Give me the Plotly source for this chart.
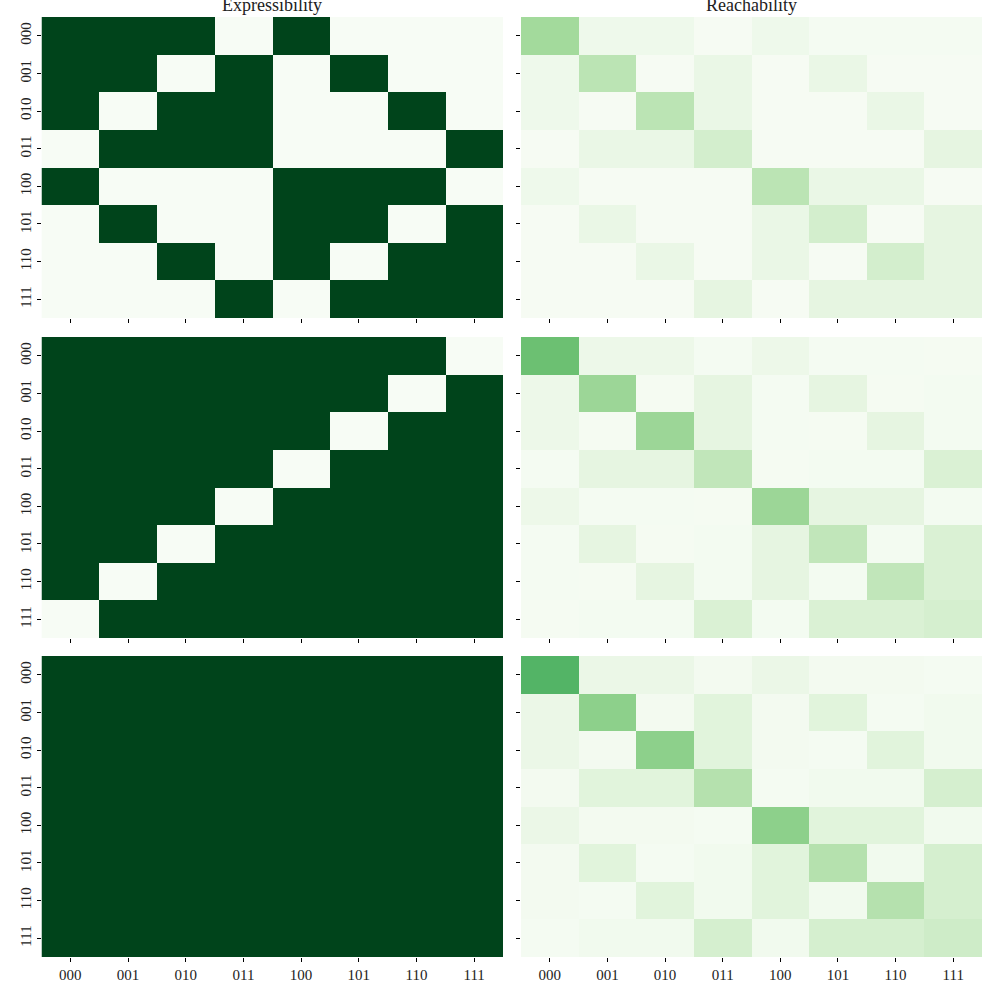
import plotly.graph_objects as go
from plotly.subplots import make_subplots

states = ["000", "001", "010", "011", "100", "101", "110", "111"]
col_titles = ["Expressibility", "Reachability"]

# Expressibility matrices (1 = expressible)
expr_1 = [
    [1, 1, 1, 0, 1, 0, 0, 0],
    [1, 1, 0, 1, 0, 1, 0, 0],
    [1, 0, 1, 1, 0, 0, 1, 0],
    [0, 1, 1, 1, 0, 0, 0, 1],
    [1, 0, 0, 0, 1, 1, 1, 0],
    [0, 1, 0, 0, 1, 1, 0, 1],
    [0, 0, 1, 0, 1, 0, 1, 1],
    [0, 0, 0, 1, 0, 1, 1, 1],
]
expr_2 = [
    [1, 1, 1, 1, 1, 1, 1, 0],
    [1, 1, 1, 1, 1, 1, 0, 1],
    [1, 1, 1, 1, 1, 0, 1, 1],
    [1, 1, 1, 1, 0, 1, 1, 1],
    [1, 1, 1, 0, 1, 1, 1, 1],
    [1, 1, 0, 1, 1, 1, 1, 1],
    [1, 0, 1, 1, 1, 1, 1, 1],
    [0, 1, 1, 1, 1, 1, 1, 1],
]
expr_3 = [
    [1, 1, 1, 1, 1, 1, 1, 1],
    [1, 1, 1, 1, 1, 1, 1, 1],
    [1, 1, 1, 1, 1, 1, 1, 1],
    [1, 1, 1, 1, 1, 1, 1, 1],
    [1, 1, 1, 1, 1, 1, 1, 1],
    [1, 1, 1, 1, 1, 1, 1, 1],
    [1, 1, 1, 1, 1, 1, 1, 1],
    [1, 1, 1, 1, 1, 1, 1, 1],
]

# Reachability matrices (estimated)
reach_1 = [
    [0.37, 0.06, 0.06, 0.01, 0.06, 0.02, 0.02, 0.02],
    [0.06, 0.29, 0.01, 0.09, 0.01, 0.09, 0.01, 0.01],
    [0.06, 0.01, 0.29, 0.09, 0.01, 0.01, 0.09, 0.01],
    [0.01, 0.09, 0.09, 0.20, 0.01, 0.01, 0.01, 0.12],
    [0.06, 0.01, 0.01, 0.01, 0.29, 0.09, 0.09, 0.01],
    [0.01, 0.09, 0.01, 0.01, 0.09, 0.20, 0.01, 0.12],
    [0.01, 0.01, 0.09, 0.01, 0.09, 0.01, 0.20, 0.12],
    [0.01, 0.01, 0.01, 0.12, 0.01, 0.12, 0.12, 0.12],
]
reach_2 = [
    [0.52, 0.07, 0.07, 0.02, 0.07, 0.02, 0.02, 0.015],
    [0.07, 0.39, 0.015, 0.12, 0.02, 0.12, 0.015, 0.025],
    [0.07, 0.015, 0.39, 0.12, 0.02, 0.015, 0.12, 0.025],
    [0.02, 0.12, 0.12, 0.27, 0.015, 0.025, 0.025, 0.17],
    [0.07, 0.02, 0.02, 0.015, 0.39, 0.12, 0.12, 0.025],
    [0.02, 0.12, 0.015, 0.025, 0.12, 0.27, 0.025, 0.17],
    [0.02, 0.015, 0.12, 0.025, 0.12, 0.025, 0.27, 0.17],
    [0.015, 0.025, 0.025, 0.17, 0.025, 0.17, 0.17, 0.19],
]
reach_3 = [
    [0.58, 0.085, 0.085, 0.03, 0.085, 0.03, 0.03, 0.02],
    [0.085, 0.43, 0.03, 0.14, 0.03, 0.14, 0.02, 0.04],
    [0.085, 0.03, 0.43, 0.14, 0.03, 0.02, 0.14, 0.04],
    [0.03, 0.14, 0.14, 0.31, 0.02, 0.04, 0.04, 0.19],
    [0.085, 0.03, 0.03, 0.02, 0.43, 0.14, 0.14, 0.04],
    [0.03, 0.14, 0.02, 0.04, 0.14, 0.31, 0.04, 0.19],
    [0.03, 0.02, 0.14, 0.04, 0.14, 0.04, 0.31, 0.19],
    [0.02, 0.04, 0.04, 0.19, 0.04, 0.19, 0.19, 0.22],
]

greens = [
    [0.0, "#f7fcf5"], [0.125, "#e5f5e0"], [0.25, "#c7e9c0"], [0.375, "#a1d99b"],
    [0.5, "#74c476"], [0.625, "#41ab5d"], [0.75, "#238b45"], [0.875, "#006d2c"],
    [1.0, "#00441b"],
]

FONT = "Liberation Serif"

fig = make_subplots(rows=3, cols=2)
panels = [[expr_1, reach_1], [expr_2, reach_2], [expr_3, reach_3]]
for r in range(3):
    for c in range(2):
        fig.add_trace(
            go.Heatmap(z=panels[r][c], x=states, y=states, colorscale=greens,
                       zmin=0, zmax=1, showscale=False, xgap=0, ygap=0),
            row=r + 1, col=c + 1,
        )

xdom = [[0.0415, 0.503], [0.521, 0.982]]
ydom = [[0.682, 0.983], [0.362, 0.663], [0.043, 0.344]]

for r in range(3):
    for c in range(2):
        idx = r * 2 + c + 1
        xa = "xaxis" if idx == 1 else f"xaxis{idx}"
        ya = "yaxis" if idx == 1 else f"yaxis{idx}"
        fig.layout[xa].update(
            domain=xdom[c], showgrid=False, zeroline=False, showline=False,
            ticks="outside", ticklen=4, tickwidth=0.8, tickcolor="black",
            showticklabels=(r == 2), tickfont=dict(family=FONT, size=15, color="#222"),
            type="category", fixedrange=True,
        )
        fig.layout[ya].update(
            domain=ydom[r], showgrid=False, zeroline=False, showline=False,
            ticks="outside", ticklen=4, tickwidth=0.8, tickcolor="black",
            showticklabels=(c == 0), tickangle=-90,
            tickfont=dict(family=FONT, size=15, color="#222"),
            autorange="reversed", type="category", fixedrange=True,
        )

for c in range(2):
    fig.add_annotation(
        x=(xdom[c][0] + xdom[c][1]) / 2, y=0.983, xref="paper", yref="paper",
        text=col_titles[c], showarrow=False, xanchor="center", yanchor="bottom",
        font=dict(family=FONT, size=18, color="#222"),
    )

fig.update_layout(
    width=1000, height=1000, margin=dict(l=0, r=0, t=0, b=0),
    paper_bgcolor="white", plot_bgcolor="white", showlegend=False,
)

fig.write_html("out.html")
